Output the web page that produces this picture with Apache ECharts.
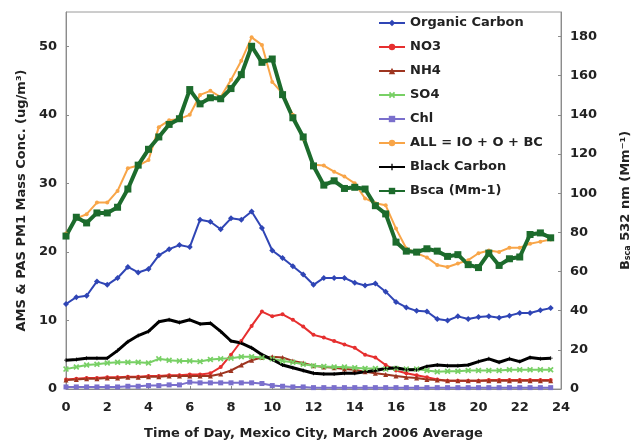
<!DOCTYPE html>
<html>
<head>
<meta charset="utf-8">
<script src="https://cdn.jsdelivr.net/npm/echarts@6/dist/echarts.min.js"></script>
<style>
html,body{margin:0;padding:0;background:#fff}
#chart{width:640px;height:445px}
</style>
</head>
<body>
<div id="chart"></div>
<script>
// half-hour bins, 0 - 23.5 h
var hours = [0,0.5,1,1.5,2,2.5,3,3.5,4,4.5,5,5.5,6,6.5,7,7.5,8,8.5,9,9.5,10,10.5,11,11.5,
             12,12.5,13,13.5,14,14.5,15,15.5,16,16.5,17,17.5,18,18.5,19,19.5,20,20.5,21,21.5,22,22.5,23,23.5];

// ug/m3 (left axis)
var organicCarbon = [12.4,13.4,13.6,15.7,15.2,16.2,17.8,17.0,17.5,19.5,20.4,21.0,20.7,24.7,24.4,23.3,24.9,24.7,25.9,23.5,
                     20.2,19.1,17.9,16.7,15.2,16.2,16.2,16.2,15.5,15.1,15.4,14.2,12.7,11.9,11.4,11.3,10.2,10.0,10.6,10.2,
                     10.5,10.6,10.4,10.7,11.1,11.1,11.5,11.8];
var no3 = [1.4,1.5,1.6,1.6,1.7,1.7,1.8,1.8,1.9,1.9,2.0,2.0,2.1,2.1,2.3,3.2,5.0,7.0,9.2,11.3,
           10.6,10.9,10.1,9.1,7.9,7.5,7.0,6.5,6.0,5.0,4.6,3.5,2.7,2.3,2.0,1.7,1.4,1.2,1.2,1.2,
           1.2,1.3,1.3,1.3,1.3,1.3,1.3,1.3];
var nh4 = [1.3,1.4,1.5,1.5,1.6,1.6,1.7,1.7,1.8,1.8,1.9,1.9,1.9,1.9,1.9,2.2,2.7,3.5,4.2,4.6,
           4.7,4.6,4.1,3.8,3.4,3.2,3.1,2.9,2.8,2.5,2.3,2.1,1.9,1.7,1.6,1.4,1.3,1.2,1.2,1.2,
           1.2,1.2,1.2,1.2,1.2,1.2,1.2,1.2];
var so4 = [2.9,3.2,3.5,3.6,3.8,3.9,3.9,3.9,3.8,4.4,4.2,4.1,4.1,4.0,4.3,4.4,4.5,4.7,4.7,4.6,
           4.4,4.1,3.9,3.6,3.4,3.3,3.2,3.2,3.1,3.0,3.0,2.9,3.0,2.9,2.9,2.7,2.5,2.6,2.6,2.7,
           2.7,2.7,2.7,2.8,2.8,2.8,2.8,2.8];
var chl = [0.3,0.3,0.3,0.3,0.3,0.3,0.4,0.4,0.5,0.5,0.6,0.6,1.0,0.9,0.9,0.9,0.9,0.9,0.9,0.8,
           0.5,0.4,0.3,0.3,0.2,0.2,0.2,0.2,0.2,0.2,0.2,0.2,0.2,0.2,0.2,0.2,0.2,0.2,0.2,0.2,
           0.2,0.2,0.2,0.2,0.2,0.2,0.2,0.2];
var allSum = [22.7,24.9,25.5,27.2,27.2,28.9,32.2,32.6,33.4,38.2,39.2,39.4,40.0,42.9,43.5,42.6,45.1,47.9,51.3,50.2,
              44.8,43.1,40.0,36.5,32.7,32.6,31.7,31.0,30.0,27.8,27.1,26.8,23.4,20.5,19.8,19.2,18.1,17.8,18.3,18.8,
              19.8,20.2,20.0,20.6,20.6,21.2,21.5,21.8];
var blackCarbon = [4.2,4.3,4.5,4.5,4.5,5.6,6.9,7.8,8.4,9.8,10.1,9.7,10.1,9.5,9.6,8.4,7.0,6.7,6.0,5.0,
                   4.3,3.5,3.1,2.7,2.3,2.2,2.2,2.3,2.3,2.5,2.7,3.0,3.1,2.8,2.8,3.3,3.5,3.4,3.4,3.5,
                   4.0,4.4,3.9,4.4,4.0,4.6,4.4,4.5];
// Mm-1 (right axis)
var bsca = [78.1,87.7,84.8,89.9,89.9,92.8,102.1,114.3,122.4,128.7,135.1,138.0,152.9,145.6,148.7,148.2,153.4,160.5,175.0,166.8,
            168.5,150.3,138.5,128.7,113.9,104.1,106.3,102.4,103.0,102.1,93.6,89.4,75.0,70.4,69.9,71.6,70.4,67.7,68.6,63.5,
            62.0,69.4,63.1,66.5,67.4,78.9,79.7,77.2];

var xTicks = [0,2,4,6,8,10,12,14,16,18,20,22,24];

var FONT = 'DejaVu Sans';
var crossMark = 'path://M2,0L5,3L8,0L10,2L7,5L10,8L8,10L5,7L2,10L0,8L3,5L0,2Z';
var plusMark = 'path://M4,0L6,0L6,4L10,4L10,6L6,6L6,10L4,10L4,6L0,6L0,4L4,4Z';

function pairs(ys){
    return hours.map(function(h, i){ return [h, ys[i]]; });
}

function makeLine(name, ys, color, width, symbol, size, yIdx){
    return {
        name: name,
        type: 'line',
        yAxisIndex: yIdx || 0,
        data: pairs(ys),
        symbol: symbol,
        symbolSize: size,
        lineStyle: {color: color, width: width},
        itemStyle: {color: color},
        emphasis: {disabled: true}
    };
}

var chart = echarts.init(document.getElementById('chart'));

var labelStyle = {fontFamily: FONT, fontWeight: 'bold', fontSize: 13, color: '#222'};
var axisGrey = {color: '#8c8c8c', width: 1};

var option = {
    animation: false,
    backgroundColor: '#fff',
    grid: {left: 66, right: 75, top: 12, bottom: 54, show: true, borderColor: '#9a9a9a', borderWidth: 1},
    legend: {
        orient: 'vertical',
        left: 378,
        top: 16,
        padding: 0,
        itemWidth: 26,
        itemHeight: 8,
        itemGap: 10,
        textStyle: {fontFamily: FONT, fontWeight: 'bold', fontSize: 13, color: '#222', lineHeight: 14},
        data: ['Organic Carbon', 'NO3', 'NH4', 'SO4', 'Chl', 'ALL = IO + O + BC', 'Black Carbon', 'Bsca (Mm-1)']
    },
    xAxis: {
        type: 'value',
        min: xTicks[0],
        max: xTicks[xTicks.length - 1],
        interval: 2,
        name: 'Time of Day, Mexico City, March 2006 Average',
        nameLocation: 'middle',
        nameGap: 38,
        nameTextStyle: {fontFamily: FONT, fontWeight: 'bold', fontSize: 13, color: '#222'},
        axisLine: {show: true, lineStyle: axisGrey},
        axisTick: {show: true, inside: true, length: 3, lineStyle: axisGrey},
        axisLabel: Object.assign({margin: 12}, labelStyle),
        splitLine: {show: false}
    },
    yAxis: [{
        type: 'value',
        min: 0,
        max: 55,
        interval: 10,
        name: 'AMS & PAS PM1 Mass Conc. (ug/m\u00b3)',
        nameLocation: 'middle',
        nameGap: 37,
        nameTextStyle: {fontFamily: FONT, fontWeight: 'bold', fontSize: 13, color: '#222'},
        axisLine: {show: true, lineStyle: axisGrey},
        axisTick: {show: true, inside: true, length: 3, lineStyle: axisGrey},
        axisLabel: Object.assign({margin: 9, showMaxLabel: false}, labelStyle),
        splitLine: {show: false}
    }, {
        type: 'value',
        position: 'right',
        min: 0,
        max: 192.5,
        interval: 20,
        name: '{b|B}{s|sca}{b| 532 nm (Mm\u207b\u00b9)}',
        nameLocation: 'middle',
        nameGap: 58,
        nameTextStyle: {
            fontFamily: FONT, fontWeight: 'bold', fontSize: 13, color: '#222',
            rich: {
                b: {fontFamily: FONT, fontWeight: 'bold', fontSize: 13, color: '#222'},
                s: {fontFamily: FONT, fontWeight: 'bold', fontSize: 8, color: '#222', padding: [5, 0, 0, 0]}
            }
        },
        axisLine: {show: true, lineStyle: axisGrey},
        axisTick: {show: true, inside: true, length: 3, lineStyle: axisGrey},
        axisLabel: Object.assign({margin: 9, showMaxLabel: false}, labelStyle),
        splitLine: {show: false}
    }],
    series: [
        makeLine('Organic Carbon', organicCarbon, '#2f45b5', 2, 'diamond', 6),
        makeLine('NO3', no3, '#e62f2f', 2, 'circle', 4),
        makeLine('NH4', nh4, '#9e3520', 2, 'triangle', 5),
        makeLine('SO4', so4, '#78d065', 2, crossMark, 6),
        makeLine('Chl', chl, '#7a6fcc', 2, 'rect', 5),
        makeLine('ALL = IO + O + BC', allSum, '#f8a548', 2, 'circle', 4),
        makeLine('Black Carbon', blackCarbon, '#000000', 3, plusMark, 4),
        makeLine('Bsca (Mm-1)', bsca, '#1c6b2c', 4, 'rect', 7, 1)
    ]
};

chart.setOption(option);
</script>
</body>
</html>
